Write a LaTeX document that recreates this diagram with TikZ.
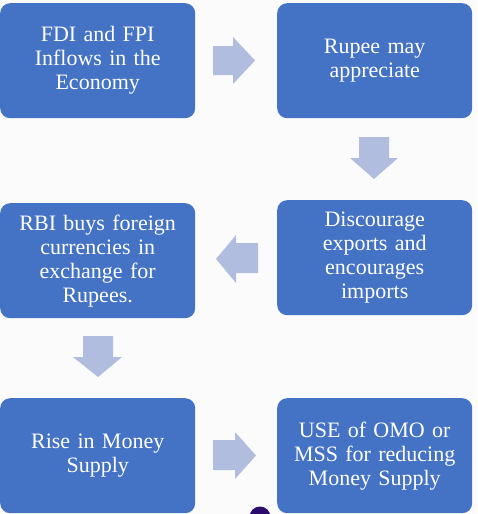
\documentclass[tikz,border=0pt]{standalone}
\usepackage{fontspec}
\setmainfont{Liberation Serif}
\definecolor{boxblue}{HTML}{4472C4}
\definecolor{arrowblue}{HTML}{B1BDDF}
\definecolor{bgcol}{HTML}{FBFBFB}
\definecolor{dotpurple}{HTML}{2B0B6B}
\begin{document}
\begin{tikzpicture}[x=1pt,y=-1pt,
  stepbox/.style={fill=boxblue, draw=none, rounded corners=10pt, minimum width=195pt, minimum height=115pt,
    text=white, align=center, font=\fontsize{22}{24}\selectfont, inner sep=0pt, anchor=north west, text width=190pt},
  flowarrow/.style={fill=arrowblue, draw=none}]
\fill[bgcol] (0,0) rectangle (477,514);
\useasboundingbox (0,0) rectangle (477,514);
\node[stepbox] (b1) at (0,3) {FDI and FPI\\Inflows in the\\Economy};
\node[stepbox] (b2) at (277,3) {Rupee may\\appreciate};
\node[stepbox] (b3) at (277,200) {Discourage\\exports and\\encourages\\imports};
\node[stepbox] (b4) at (0,203) {RBI buys foreign\\currencies in\\exchange for\\Rupees.};
\node[stepbox] (b5) at (0,398) {Rise in Money\\Supply};
\node[stepbox] (b6) at (277,398) {USE of OMO or\\MSS for reducing\\Money Supply};
% arrows
\fill[flowarrow] (213,46) -- (233,46) -- (233,37) -- (255,60.5) -- (233,84) -- (233,75) -- (213,75) -- cycle;
\fill[flowarrow] (359,137) -- (389,137) -- (389,158) -- (398,158) -- (374,179) -- (350,158) -- (359,158) -- cycle;
\fill[flowarrow] (258,243) -- (236,243) -- (236,235) -- (216,259) -- (236,283) -- (236,273) -- (258,273) -- cycle;
\fill[flowarrow] (83,336) -- (113,336) -- (113,357) -- (122,357) -- (98,377) -- (73,357) -- (83,357) -- cycle;
\fill[flowarrow] (213,440) -- (235,440) -- (235,432) -- (256,455.5) -- (235,479) -- (235,470) -- (213,470) -- cycle;
\fill[dotpurple] (260,517) circle (10.5);
\end{tikzpicture}
\end{document}
